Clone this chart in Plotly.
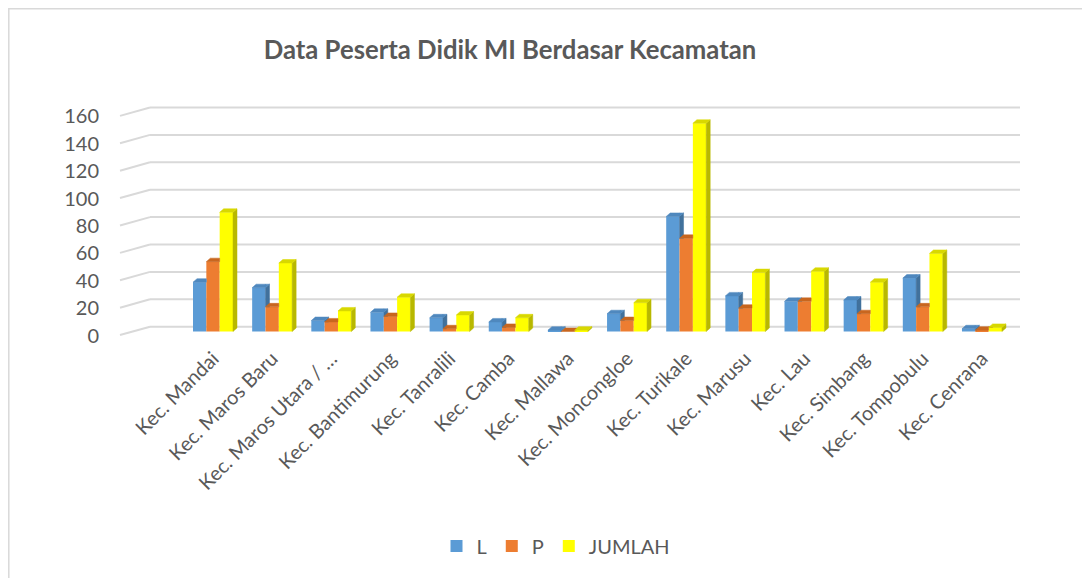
import plotly.graph_objects as go

# ---------------- data ----------------
categories = ["Kec. Mandai", "Kec. Maros Baru", "Kec. Maros Utara / …", "Kec. Bantimurung",
              "Kec. Tanralili", "Kec. Camba", "Kec. Mallawa", "Kec. Moncongloe",
              "Kec. Turikale", "Kec. Marusu", "Kec. Lau", "Kec. Simbang",
              "Kec. Tompobulu", "Kec. Cenrana"]
L_values = [36, 32, 8, 14, 10, 7, 1, 13, 84, 26, 22, 23, 39, 2]
P_values = [51, 18, 7, 11, 2, 3, 0, 8, 68, 17, 22, 13, 18, 1]
JUMLAH_values = [87, 50, 15, 25, 12, 10, 1, 21, 152, 43, 44, 36, 57, 3]
series_names = ["L", "P", "JUMLAH"]
y_ticks = [0, 20, 40, 60, 80, 100, 120, 140, 160]

# ---------------- style / layout constants ----------------
W, H = 1090, 578
PAGE = 8  # default body margin of the html page (screen offset)
# target screen positions of plot area
PL, PR, PT, PB = 150, 1020, 104, 336
ML = PL - PAGE
MR = W - (PR - PAGE)
MT = PT - PAGE
MB = H - (PB - PAGE)
PLOT_W = PR - PL
PLOT_H = PB - PT
PX_PER_CAT = 59.15
X0 = -(213 - PL) / PX_PER_CAT
X1 = X0 + PLOT_W / PX_PER_CAT
PX_PER_UNIT = 1.37
Y0 = -(PB - 331.5) / PX_PER_UNIT
Y1 = Y0 + PLOT_H / PX_PER_UNIT

front = ["#5B9BD5", "#ED7D31", "#FFFF00"]
side = ["#41719C", "#AE5A21", "#B8B800"]
top = ["#4F88BE", "#C8661F", "#D8D800"]
TXT = "#595959"
GRID = "#D9D9D9"
FONT = "Lato"

BW = 13.33 / PX_PER_CAT          # bar width in category units
DX = 4.0 / PX_PER_CAT            # depth offset (x)
DY = 3.5 / PX_PER_UNIT           # depth offset (y)
offsets = [-1.5 * BW, -0.5 * BW, 0.5 * BW]

values = [L_values, P_values, JUMLAH_values]
xs = list(range(len(categories)))


def clip(poly, f):
    out = []
    n = len(poly)
    for i in range(n):
        a, b = poly[i], poly[(i + 1) % n]
        fa, fb = f(a), f(b)
        if fa >= 0:
            out.append(a)
        if (fa >= 0) != (fb >= 0):
            t = fa / (fa - fb)
            out.append((a[0] + t * (b[0] - a[0]), a[1] + t * (b[1] - a[1])))
    return out


def area(poly):
    s = 0
    for i in range(len(poly)):
        x1, y1 = poly[i]
        x2, y2 = poly[(i + 1) % len(poly)]
        s += x1 * y2 - x2 * y1
    return abs(s) / 2


fig = go.Figure()

# front faces (real bars)
for s in range(3):
    fig.add_trace(go.Bar(
        x=xs, y=values[s], name=series_names[s], width=BW, offset=offsets[s],
        marker=dict(color=front[s], line=dict(width=0)),
    ))

# side + top faces of the 3D columns, computed from the data
for s in range(3):
    for kind in ("side", "top"):
        px, py = [], []
        for i in xs:
            v = values[s][i]
            xl = i + offsets[s]
            xr = xl + BW
            if kind == "side":
                face = [(xr, 0), (xr + DX, DY), (xr + DX, v + DY), (xr, v)]
            else:
                face = [(xl, v), (xr, v), (xr + DX, v + DY), (xl + DX, v + DY)]
            parts = []
            if s < 2:
                h = values[s + 1][i]
                parts.append(clip(face, lambda p, xr=xr: xr - p[0]))
                b = clip(face, lambda p, xr=xr: p[0] - xr)
                parts.append(clip(b, lambda p, h=h: p[1] - h))
            else:
                parts.append(face)
            for poly in parts:
                if len(poly) >= 3 and area(poly) > 1e-6:
                    for (a, c) in poly:
                        px.append(a)
                        py.append(c)
                    px.append(poly[0][0])
                    py.append(poly[0][1])
                    px.append(None)
                    py.append(None)
        col = side[s] if kind == "side" else top[s]
        fig.add_trace(go.Scatter(
            x=px, y=py, mode="lines", fill="toself", fillcolor=col,
            line=dict(color=col, width=0.5), showlegend=False, hoverinfo="skip",
        ))


def sx(px):  # screen x -> paper x
    return (px - PL) / PLOT_W


def sy(py):  # screen y -> paper y
    return (PB - py) / PLOT_H


def yv(v):  # value -> paper y
    return (v - Y0) / (Y1 - Y0)


shapes = []
for t in y_ticks:
    back = t + 3.5
    frontv = t - 2.6
    shapes.append(dict(type="line", xref="paper", yref="paper",
                       x0=sx(150), x1=sx(1020), y0=yv(back), y1=yv(back),
                       line=dict(color=GRID, width=2), layer="below"))
    shapes.append(dict(type="line", xref="paper", yref="paper",
                       x0=sx(120), x1=sx(150), y0=yv(frontv), y1=yv(back),
                       line=dict(color=GRID, width=2), layer="below"))
# chart border
shapes.append(dict(type="rect", xref="paper", yref="paper",
                   x0=sx(PAGE + 0.8), x1=sx(1087), y0=sy(600), y1=sy(PAGE + 0.8),
                   line=dict(color=GRID, width=1.5), fillcolor="rgba(0,0,0,0)", layer="below"))

fig.update_layout(
    width=W, height=H,
    margin=dict(l=ML, r=MR, t=MT, b=MB),
    paper_bgcolor="white", plot_bgcolor="rgba(0,0,0,0)",
    barmode="overlay",
    font=dict(family=FONT, color=TXT),
    title=dict(text="<b>Data Peserta Didik MI Berdasar Kecamatan</b>",
               x=(510 - PAGE) / W, xanchor="center", y=1 - (50 - PAGE) / H, yanchor="middle",
               font=dict(family=FONT, size=25.7, color=TXT)),
    xaxis=dict(range=[X0, X1], tickvals=xs, ticktext=categories, tickangle=-45,
               showgrid=False, zeroline=False, showline=False, ticks="",
               tickfont=dict(family=FONT, size=20, color=TXT), ticklabelstandoff=6),
    yaxis=dict(range=[Y0, Y1], tickvals=y_ticks, showgrid=False, zeroline=False,
               showline=False, ticks="", ticklabelstandoff=50, ticklabelshift=4,
               tickfont=dict(family=FONT, size=20, color=TXT)),
    legend=dict(orientation="h", x=(556 - PAGE) / W, xref="container", xanchor="center",
                y=1 - (546 - PAGE) / H, yref="container", yanchor="middle",
                font=dict(family=FONT, size=20, color=TXT), traceorder="normal",
                itemwidth=30),
    shapes=shapes,
    showlegend=True,
)

fig.write_html("out.html")
